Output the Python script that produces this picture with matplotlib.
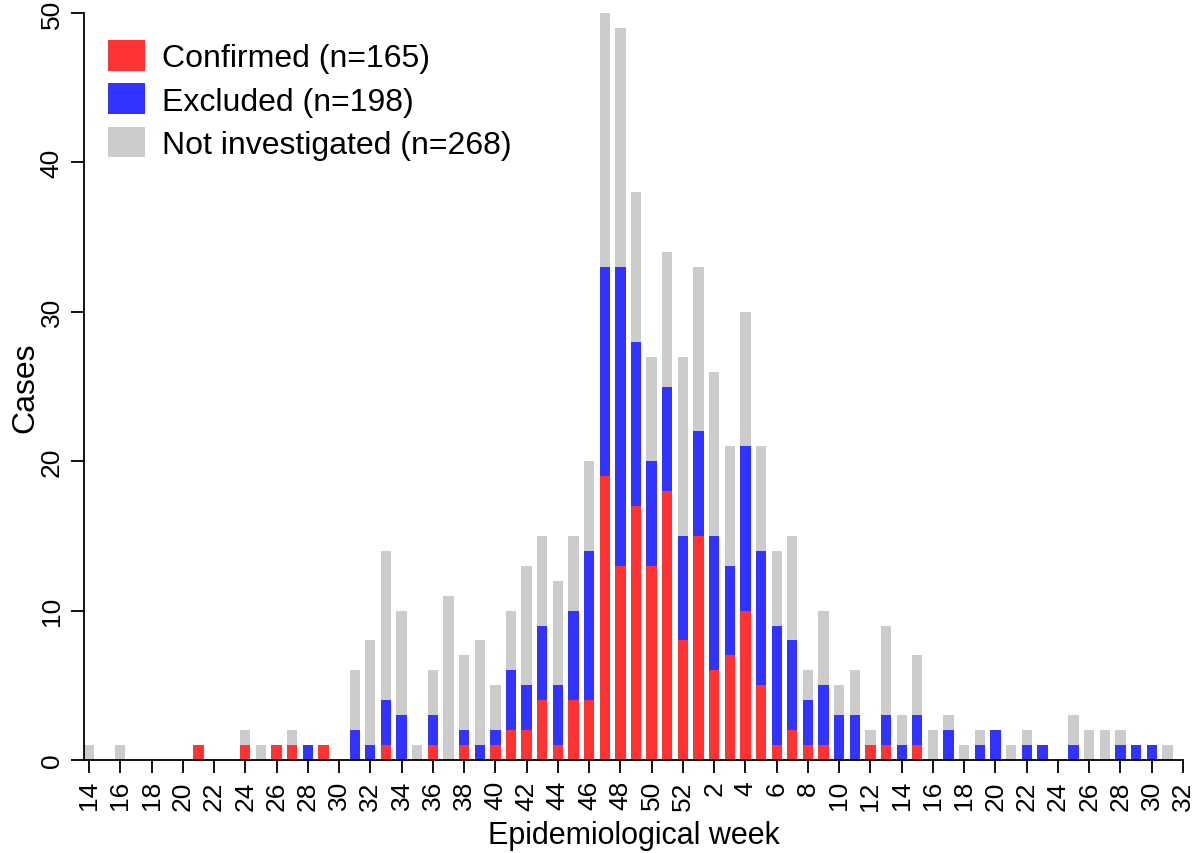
import numpy as np
import matplotlib
matplotlib.use("Agg")
import matplotlib.pyplot as plt
from matplotlib.patches import Patch

plt.rcParams['font.family'] = ['Liberation Sans', 'DejaVu Sans']

# epidemiological weeks: 14..52 of the first year, then 1..32 of the next
weeks_y1 = list(range(14, 53))
weeks_y2 = list(range(1, 33))

#                 14 15 16 17 18 19 20 21 22 23 24 25 26 27 28 29 30 31 32 33 34 35 36 37 38 39 40 41 42 43 44 45 46 47  48  49  50  51  52
confirmed_y1 =   [0, 0, 0, 0, 0, 0, 0, 1, 0, 0, 1, 0, 1, 1, 0, 1, 0, 0, 0, 1, 0, 0, 1, 0, 1, 0, 1, 2, 2, 4, 1, 4, 4, 19, 13, 17, 13, 18, 8]
excluded_y1 =    [0, 0, 0, 0, 0, 0, 0, 0, 0, 0, 0, 0, 0, 0, 1, 0, 0, 2, 1, 3, 3, 0, 2, 0, 1, 1, 1, 4, 3, 5, 4, 6, 10, 14, 20, 11, 7, 7, 7]
not_invest_y1 =  [1, 0, 1, 0, 0, 0, 0, 0, 0, 0, 1, 1, 0, 1, 0, 0, 0, 4, 7, 10, 7, 1, 3, 11, 5, 7, 3, 4, 8, 6, 7, 5, 6, 17, 16, 10, 7, 9, 12]

#                 1   2  3  4   5  6  7  8  9 10 11 12 13 14 15 16 17 18 19 20 21 22 23 24 25 26 27 28 29 30 31 32
confirmed_y2 =   [15, 6, 7, 10, 5, 1, 2, 1, 1, 0, 0, 1, 1, 0, 1, 0, 0, 0, 0, 0, 0, 0, 0, 0, 0, 0, 0, 0, 0, 0, 0, 0]
excluded_y2 =    [7, 9, 6, 11, 9, 8, 6, 3, 4, 3, 3, 0, 2, 1, 2, 0, 2, 0, 1, 2, 0, 1, 1, 0, 1, 0, 0, 1, 1, 1, 0, 0]
not_invest_y2 =  [11, 11, 8, 9, 7, 5, 7, 2, 5, 2, 3, 1, 6, 2, 4, 2, 1, 1, 1, 0, 1, 1, 0, 0, 2, 2, 2, 1, 0, 0, 1, 0]

weeks = weeks_y1 + weeks_y2
confirmed = np.array(confirmed_y1 + confirmed_y2)
excluded = np.array(excluded_y1 + excluded_y2)
not_invest = np.array(not_invest_y1 + not_invest_y2)

c_red = "#FF3333"
c_blue = "#3333FF"
c_grey = "#CCCCCC"

fig = plt.figure(figsize=(11.94, 8.54), dpi=100)
ax = fig.add_axes([84 / 1194, 93 / 854, 1099 / 1194, 747 / 854])

x = np.arange(len(weeks))
w = 0.66
ax.bar(x, confirmed, width=w, color=c_red, linewidth=0)
ax.bar(x, excluded, width=w, bottom=confirmed, color=c_blue, linewidth=0)
ax.bar(x, not_invest, width=w, bottom=confirmed + excluded, color=c_grey, linewidth=0)

ax.set_xlim(-0.32, len(weeks) - 1)
ax.set_ylim(0, 50)

for s in ["top", "right"]:
    ax.spines[s].set_visible(False)
for s in ["left", "bottom"]:
    ax.spines[s].set_linewidth(1.3)

ax.set_xticks(x[::2])
ax.set_xticklabels([str(wk) for wk in weeks[::2]], rotation=90, fontsize=19)
ax.set_yticks(range(0, 51, 10))
ax.set_yticklabels([str(v) for v in range(0, 51, 10)], rotation=90, va="center", fontsize=19)
ax.tick_params(axis="both", direction="out", length=9.5, width=1.3, pad=5)

ax.set_xlabel("Epidemiological week", fontsize=22)
ax.xaxis.set_label_coords(0.5, -0.08)
ax.set_ylabel("Cases", fontsize=23)
ax.yaxis.set_label_coords(-0.04, 0.5)

handles = [Patch(facecolor=c_red, label="Confirmed (n=%d)" % confirmed.sum()),
           Patch(facecolor=c_blue, label="Excluded (n=%d)" % excluded.sum()),
           Patch(facecolor=c_grey, label="Not investigated (n=%d)" % not_invest.sum())]
ax.legend(handles=handles, loc="upper left", bbox_to_anchor=(0.0102, 0.981), frameon=False,
          fontsize=23, handlelength=1.15, handleheight=1.1, handletextpad=0.55, labelspacing=0.32,
          borderaxespad=0)

fig.savefig("out.png", dpi=100)
